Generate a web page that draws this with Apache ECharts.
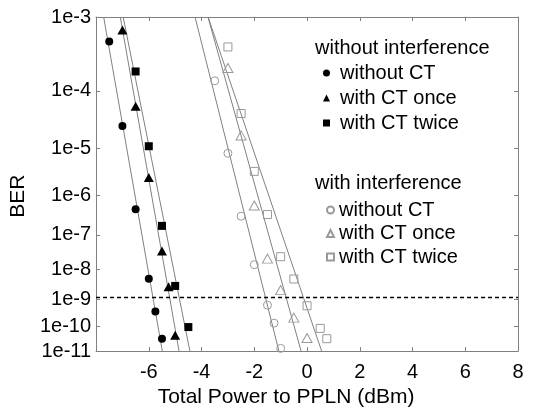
<!DOCTYPE html>
<html>
<head>
<meta charset="utf-8">
<script src="https://cdn.jsdelivr.net/npm/echarts@6/dist/echarts.min.js"></script>
<style>
  html, body { margin: 0; padding: 0; background: #fff; }
  #main { width: 535px; height: 413px; }
</style>
</head>
<body>
<div id="main"></div>
<script>
// BER curves, x = total power (dBm)
var xNoIntNoCT = [-7.5, -7, -6.5, -6, -5.75, -5.5];
var berNoIntNoCT = [5e-4, 2.6e-5, 4.6e-7, 5e-9, 3.7e-10, 3.3e-11];
var xNoIntOnce = [-7, -6.5, -6, -5.5, -5.25, -5];
var berNoIntOnce = [7e-4, 5.7e-5, 2.5e-6, 3.5e-8, 2.7e-9, 4.5e-11];
var xNoIntTwice = [-6.5, -6, -5.5, -5, -4.5];
var berNoIntTwice = [1.96e-4, 1.1e-5, 1.74e-7, 2.9e-9, 9.6e-11];

var xIntNoCT = [-3.5, -3, -2.5, -2, -1.5, -1.25, -1];
var berIntNoCT = [1.43e-4, 8e-6, 3.1e-7, 1.38e-8, 6.3e-10, 1.36e-10, 1.3e-11];
var xIntOnce = [-3, -2.5, -2, -1.5, -1, -0.5, 0];
var berIntOnce = [2.2e-4, 1.76e-5, 5.7e-7, 2.1e-8, 2.1e-9, 2.2e-10, 3.5e-11];
var xIntTwice = [-3, -2.5, -2, -1.5, -1, -0.5, 0, 0.5, 0.75];
var berIntTwice = [4.26e-4, 4.3e-5, 3.4e-6, 3.4e-7, 2.4e-8, 4.9e-9, 6e-10, 8.5e-11, 3.3e-11];

// decades shown on the BER axis (1e-3 ... 1e-11)
var berExponents = [3, 4, 5, 6, 7, 8, 9, 10, 11];
var berLimit = 1e-9;

var FONT = '"Liberation Sans", Arial, sans-serif';

// BER axis is scaled as log10(-log10(BER))
function tr(b) { return Math.log10(-Math.log10(b)); }
var yMin = Math.log10(berExponents[0]);
var yMax = Math.log10(berExponents[berExponents.length - 1]);
var yTicks = berExponents.map(function (n) { return Math.log10(n); });

function pts(xs, bs) {
  return xs.map(function (x, i) { return [x, tr(bs[i])]; });
}

// least squares fit of x against transformed BER, drawn across the full height
function fitLine(xs, bs) {
  var f = bs.map(tr);
  var n = xs.length, mx = 0, mf = 0;
  for (var i = 0; i < n; i++) { mx += xs[i]; mf += f[i]; }
  mx /= n; mf /= n;
  var sxf = 0, sff = 0;
  for (var j = 0; j < n; j++) {
    sxf += (xs[j] - mx) * (f[j] - mf);
    sff += (f[j] - mf) * (f[j] - mf);
  }
  var k = sxf / sff;
  return [[mx + k * (yMin - mf), yMin], [mx + k * (yMax - mf), yMax]];
}

var groups = [
  { name: 'without CT', x: xNoIntNoCT, b: berNoIntNoCT, symbol: 'circle', size: 8, fill: '#000', border: '#000' },
  { name: 'with CT once', x: xNoIntOnce, b: berNoIntOnce, symbol: 'triangle', size: [10, 9], fill: '#000', border: '#000' },
  { name: 'with CT twice', x: xNoIntTwice, b: berNoIntTwice, symbol: 'rect', size: 8, fill: '#000', border: '#000' },
  { name: 'without CT ', x: xIntNoCT, b: berIntNoCT, symbol: 'circle', size: 8, fill: 'transparent', border: '#999' },
  { name: 'with CT once ', x: xIntOnce, b: berIntOnce, symbol: 'triangle', size: [10, 9], fill: 'transparent', border: '#999' },
  { name: 'with CT twice ', x: xIntTwice, b: berIntTwice, symbol: 'rect', size: 8, fill: 'transparent', border: '#999' }
];

var series = [];
groups.forEach(function (g) {
  series.push({
    type: 'line',
    silent: true,
    showSymbol: false,
    data: fitLine(g.x, g.b),
    lineStyle: { color: '#808080', width: 1 },
    z: 1
  });
});
groups.forEach(function (g) {
  series.push({
    name: g.name,
    type: 'scatter',
    symbol: g.symbol,
    symbolSize: g.size,
    data: pts(g.x, g.b),
    itemStyle: { color: g.fill, borderColor: g.border, borderWidth: g.fill === '#000' ? 0 : 1, opacity: 1 },
    z: 3
  });
});
// 1e-9 reference line
series[0].markLine = {
  silent: true,
  symbol: 'none',
  label: { show: false },
  lineStyle: { color: '#000', type: [4, 3], width: 1.3 },
  data: [{ yAxis: tr(berLimit) }]
};

var chart = echarts.init(document.getElementById('main'));
chart.setOption({
  animation: false,
  textStyle: { fontFamily: FONT },
  grid: { left: 83, right: 17, top: 17, bottom: 54 },
  xAxis: [{
    type: 'value',
    min: -8, max: 8, interval: 2,
    name: 'Total Power to PPLN (dBm)',
    nameLocation: 'middle',
    nameGap: 31,
    nameTextStyle: { fontSize: 21, color: '#000', fontFamily: FONT, padding: [0, 42, 0, 0] },
    axisLine: { onZero: false, lineStyle: { color: '#808080' } },
    axisTick: { inside: true, length: 4, lineStyle: { color: '#808080' } },
    axisLabel: { fontSize: 20, color: '#000', fontFamily: FONT, showMinLabel: false, margin: 11 },
    splitLine: { show: false }
  }, {
    type: 'value', position: 'top',
    min: -8, max: 8, interval: 2,
    axisLine: { onZero: false, lineStyle: { color: '#808080' } },
    axisTick: { inside: true, length: 4, lineStyle: { color: '#808080' } },
    axisLabel: { show: false },
    splitLine: { show: false }
  }],
  yAxis: [{
    type: 'value',
    inverse: true,
    min: yMin, max: yMax,
    name: 'BER',
    nameLocation: 'middle',
    nameGap: 37,
    nameTextStyle: { fontSize: 21, color: '#000', fontFamily: FONT, padding: [0, 24, 0, 0] },
    axisLine: { show: true, onZero: false, lineStyle: { color: '#808080' } },
    axisTick: { inside: true, length: 4, customValues: yTicks, lineStyle: { color: '#808080' } },
    axisLabel: {
      fontSize: 20, color: '#000', fontFamily: FONT, margin: 5,
      customValues: yTicks,
      formatter: function (v) { return '1e-' + Math.round(Math.pow(10, v)); }
    },
    splitLine: { show: false }
  }, {
    type: 'value', position: 'right',
    inverse: true,
    min: yMin, max: yMax,
    axisLine: { show: true, onZero: false, lineStyle: { color: '#808080' } },
    axisTick: { inside: true, length: 4, customValues: yTicks, lineStyle: { color: '#808080' } },
    axisLabel: { show: false },
    splitLine: { show: false }
  }],
  legend: [{
    orient: 'vertical',
    left: 323, top: 63, padding: 0,
    itemWidth: 7, itemHeight: 7, itemGap: 5,
    textStyle: { fontSize: 20, color: '#000', fontFamily: FONT, padding: [0, 0, 0, 5] },
    data: ['without CT', 'with CT once', 'with CT twice']
  }, {
    orient: 'vertical',
    left: 326, top: 200, padding: 0,
    itemWidth: 7, itemHeight: 7, itemGap: 3.5,
    textStyle: { fontSize: 20, color: '#000', fontFamily: FONT },
    data: ['without CT ', 'with CT once ', 'with CT twice ']
  }],
  graphic: [{
    type: 'text',
    style: { text: 'without interference', x: 315, y: 48, verticalAlign: 'middle', font: '20px ' + FONT, fill: '#000' }
  }, {
    type: 'text',
    style: { text: 'with interference', x: 315, y: 183, verticalAlign: 'middle', font: '20px ' + FONT, fill: '#000' }
  }],
  series: series
});
</script>
</body>
</html>
